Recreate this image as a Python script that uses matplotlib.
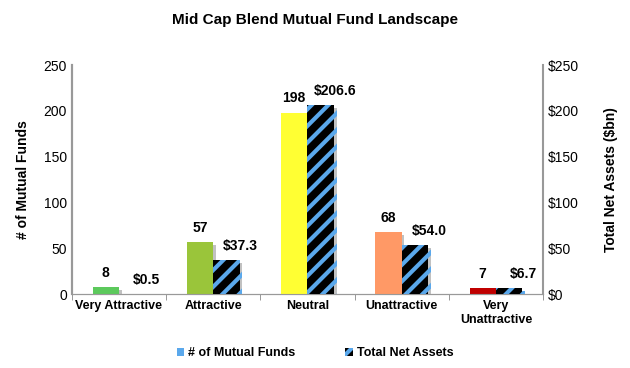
import matplotlib.pyplot as plt
import matplotlib.patheffects as pe
from matplotlib.patches import Patch
import numpy as np

categories = ['Very Attractive', 'Attractive', 'Neutral', 'Unattractive', 'Very\nUnattractive']
num_funds = [8, 57, 198, 68, 7]
net_assets = [0.5, 37.3, 206.6, 54.0, 6.7]
fund_labels = ['8', '57', '198', '68', '7']
asset_labels = ['$0.5', '$37.3', '$206.6', '$54.0', '$6.7']
bar_colors = ['#5cc95c', '#9ac53a', '#ffff33', '#ff9966', '#c00000']

plt.rcParams['font.family'] = 'Liberation Sans'
plt.rcParams['hatch.linewidth'] = 3.0

fig = plt.figure(figsize=(6.3, 3.68), dpi=100)
ax = fig.add_axes([0.114, 0.2, 0.748, 0.623])
ax2 = ax.twinx()

x = np.arange(len(categories))
w = 0.28
shadow = [pe.SimplePatchShadow(offset=(2, -2), shadow_rgbFace='#999999', alpha=0.6), pe.Normal()]

b1 = ax.bar(x - w / 2, num_funds, w, color=bar_colors, zorder=3, path_effects=shadow)
b2 = ax2.bar(x + w / 2, net_assets, w, color='black', edgecolor='#5aa8ec', hatch='//',
             linewidth=0, zorder=3, path_effects=shadow)

for xi, v, t in zip(x, num_funds, fund_labels):
    ax.text(xi - w / 2, v + 8, t, ha='center', va='bottom', fontsize=10, fontweight='bold')
for xi, v, t in zip(x, net_assets, asset_labels):
    ax2.text(xi + w / 2 + 0.15, v + 8, t, ha='center', va='bottom', fontsize=10, fontweight='bold')

ax.set_xlim(-0.5, 4.5)
ax.set_ylim(0, 250)
ax2.set_ylim(0, 250)
ax.set_yticks(range(0, 251, 50))
ax2.set_yticks(range(0, 251, 50))
ax2.set_yticklabels(['$' + str(v) for v in range(0, 251, 50)])
ax.set_xticks(x)
ax.set_xticklabels(categories, fontsize=9, fontweight='bold')
ax.set_xticks(np.arange(-0.5, 5, 1), minor=True)
ax.tick_params(axis='x', which='major', length=0, pad=4)
ax.tick_params(axis='x', which='minor', length=4, direction='out', color='#888888')
ax.tick_params(axis='y', labelsize=10, length=0)
ax2.tick_params(axis='y', labelsize=10, length=0)

for a in (ax, ax2):
    a.spines['top'].set_visible(False)
    a.spines['left'].set_color('#999999')
    a.spines['right'].set_color('#999999')
    a.spines['bottom'].set_color('#999999')
    a.spines['left'].set_linewidth(1.5)
    a.spines['right'].set_linewidth(1.5)
ax.spines['right'].set_visible(False)

ax.set_ylabel('# of Mutual Funds', fontsize=10, fontweight='bold', labelpad=10)
ax2.set_ylabel('Total Net Assets ($bn)', fontsize=10, fontweight='bold', labelpad=18)

fig.suptitle('Mid Cap Blend Mutual Fund Landscape', fontsize=11, fontweight='bold', y=0.965)

handles = [Patch(facecolor='#5aa8ec', edgecolor='none'),
           Patch(facecolor='black', edgecolor='#5aa8ec', hatch='//', linewidth=0)]
fig.legend(handles, ['# of Mutual Funds', 'Total Net Assets'], loc='center', ncol=2,
           bbox_to_anchor=(0.5, 0.04), frameon=False, handlelength=0.6, handleheight=0.6,
           handletextpad=0.3, columnspacing=4, prop={'size': 9, 'weight': 'bold'})

fig.savefig('out.png', dpi=100)
